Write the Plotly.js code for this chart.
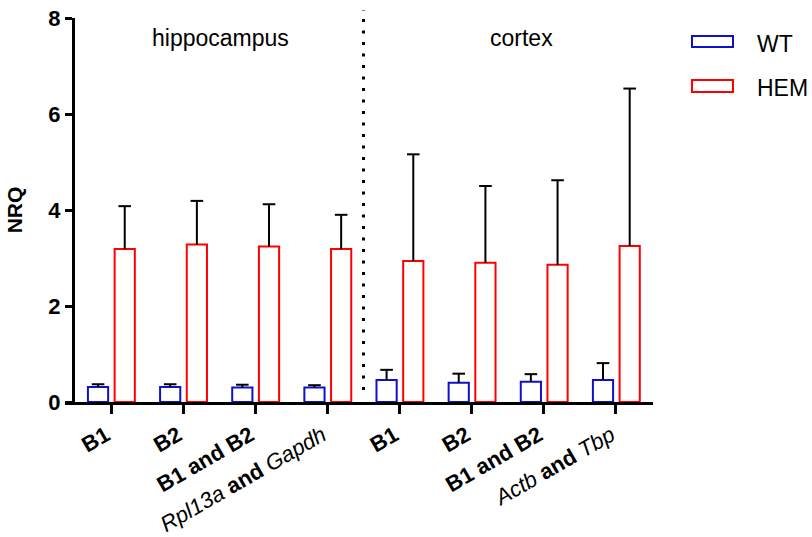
<!DOCTYPE html>
<html>
<head>
<meta charset="utf-8">
<script src="https://cdn.plot.ly/plotly-3.0.1.min.js"></script>
<style>html,body{margin:0;padding:0;background:#fff;}#chart{width:812px;height:537px;}</style>
</head>
<body>
<div id="chart"></div>
<script>
// ---- data ----
var categories = ["B1", "B2", "B1 and B2", "Rpl13a and Gapdh", "B1", "B2", "B1 and B2", "Actb and Tbp"];
var tickLabels = ["<b>B1</b>", "<b>B2</b>", "<b>B1 and B2</b>", "<i>Rpl13a</i><b> and </b><i>Gapdh</i>",
                  "<b>B1</b>", "<b>B2</b>", "<b>B1 and B2</b>", "<i>Actb</i><b> and </b><i>Tbp</i>"];
var regions = ["hippocampus", "cortex"];
var seriesNames = ["WT", "HEM"];
var wtValues  = [0.31, 0.31, 0.30, 0.30, 0.46, 0.40, 0.42, 0.46];
var wtErrors  = [0.06, 0.06, 0.06, 0.05, 0.21, 0.19, 0.16, 0.35];
var hemValues = [3.19, 3.28, 3.24, 3.19, 2.94, 2.90, 2.86, 3.25];
var hemErrors = [0.89, 0.91, 0.88, 0.71, 2.22, 1.60, 1.76, 3.28];
var yTicks = [0, 2, 4, 6, 8];

// ---- styling ----
var FONT = "Liberation Sans, Arial, sans-serif";
var BLUE = "#1010cc", RED = "#ff0000";
var barW = 0.28, offWT = -0.32, offHEM = 0.05;
var xIdx = categories.map(function (_, i) { return i; });

function barTrace(name, vals, errs, col, off) {
  return {
    type: "bar", name: name, x: xIdx, y: vals, width: barW, offset: off,
    marker: { color: "#ffffff", line: { color: col, width: 2 } },
    error_y: { type: "data", symmetric: false, array: errs, arrayminus: vals.map(function(){return 0;}),
               color: "#000", thickness: 2, width: 0 },
    showlegend: false, hoverinfo: "y"
  };
}
function capTrace(vals, errs, off) {
  return {
    type: "scatter", mode: "markers",
    x: xIdx.map(function (i) { return i + off + barW / 2; }),
    y: vals.map(function (v, i) { return v + errs[i]; }),
    marker: { symbol: "line-ew", size: 9, color: "#000", line: { color: "#000", width: 2 } },
    showlegend: false, hoverinfo: "skip", cliponaxis: false
  };
}

var traces = [
  barTrace(seriesNames[0], wtValues, wtErrors, BLUE, offWT),
  barTrace(seriesNames[1], hemValues, hemErrors, RED, offHEM),
  capTrace(wtValues, wtErrors, offWT),
  capTrace(hemValues, hemErrors, offHEM)
];

var plotL = 65, plotR = 653, plotT = 18, plotB = 402;
var pw = plotR - plotL, ph = plotB - plotT;
function px(xp) { return (xp - plotL) / pw; }
function py(yp) { return (plotB - yp) / ph; }

var layout = {
  width: 812, height: 537,
  margin: { l: plotL, r: 812 - plotR, t: plotT, b: 537 - plotB, pad: 0 },
  paper_bgcolor: "#fff", plot_bgcolor: "rgba(0,0,0,0)",
  barmode: "overlay",
  font: { family: FONT, color: "#000" },
  showlegend: false,
  xaxis: {
    range: [-0.638, 7.513], showgrid: false, zeroline: false,
    showline: true, linecolor: "#000", linewidth: 3,
    tickmode: "array", tickvals: xIdx, ticktext: tickLabels,
    ticks: "outside", ticklen: 9, tickwidth: 3, tickcolor: "#000",
    tickangle: -30, ticklabelshift: -5,
    tickfont: { family: FONT, size: 22, color: "#000" }
  },
  yaxis: {
    range: [0, 8], anchor: "free", position: px(73),
    showgrid: false, zeroline: false,
    showline: true, linecolor: "#000", linewidth: 3,
    tickmode: "array", tickvals: yTicks, ticktext: yTicks.map(String),
    ticks: "outside", ticklen: 7, tickwidth: 3, tickcolor: "#000",
    tickfont: { family: FONT, size: 22, color: "#000", weight: "bold" },
    title: { text: "NRQ", font: { family: FONT, size: 21, color: "#000", weight: "bold" }, standoff: 18 }
  },
  shapes: [
    { type: "line", xref: "x", yref: "paper", x0: 3.5, x1: 3.5, y0: py(390), y1: py(10),
      line: { color: "#000", width: 3, dash: "3px,8.5px" } },
    { type: "rect", xref: "paper", yref: "paper", x0: px(692), x1: px(733), y0: py(47), y1: py(36),
      line: { color: BLUE, width: 2 }, fillcolor: "#fff" },
    { type: "rect", xref: "paper", yref: "paper", x0: px(692), x1: px(733), y0: py(92), y1: py(80),
      line: { color: RED, width: 2 }, fillcolor: "#fff" }
  ],
  annotations: [
    { xref: "paper", yref: "paper", x: px(220), y: py(38), text: regions[0], showarrow: false,
      xanchor: "center", yanchor: "middle", font: { family: FONT, size: 23, color: "#000" } },
    { xref: "paper", yref: "paper", x: px(521), y: py(38), text: regions[1], showarrow: false,
      xanchor: "center", yanchor: "middle", font: { family: FONT, size: 23, color: "#000" } },
    { xref: "paper", yref: "paper", x: px(755), y: py(44), text: seriesNames[0], showarrow: false,
      xanchor: "left", yanchor: "middle", font: { family: FONT, size: 23, color: "#000" } },
    { xref: "paper", yref: "paper", x: px(755), y: py(88), text: seriesNames[1], showarrow: false,
      xanchor: "left", yanchor: "middle", font: { family: FONT, size: 23, color: "#000" } }
  ]
};

Plotly.newPlot("chart", traces, layout, { staticPlot: true, displayModeBar: false });
</script>
</body>
</html>
